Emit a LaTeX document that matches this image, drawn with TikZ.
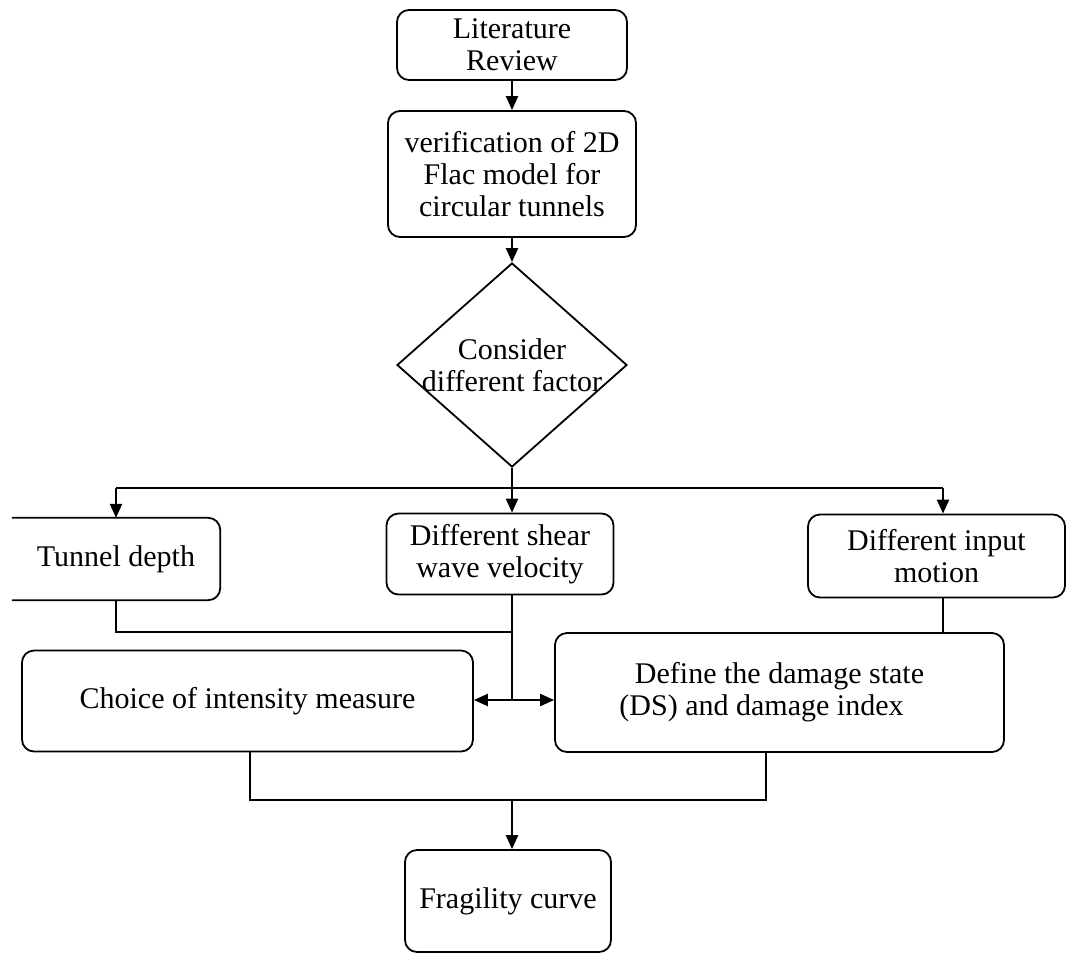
\documentclass[tikz,border=0pt]{standalone}
\usepackage{fontspec}
\setmainfont{Liberation Serif}
\usetikzlibrary{shapes.geometric,arrows.meta}
\begin{document}
\begin{tikzpicture}[x=1pt,y=-1pt,
  txt/.style={align=center, inner sep=0pt, font=\fontsize{30}{32}\selectfont},
  box/.style={txt, draw, rounded corners=12pt, line width=1.8pt},
  boxline/.style={line width=1.8pt, rounded corners=12pt},
  conn/.style={line width=2.3pt},
  arr/.style={conn, -{Triangle[length=14pt,width=12pt]}},
  darr/.style={conn, {Triangle[length=14pt,width=12pt]}-{Triangle[length=14pt,width=12pt]}}]
\useasboundingbox (0,0) rectangle (1067,954);
% nodes
\node[box, minimum width=230pt, minimum height=70pt] (lit) at (512,45) {Literature\\Review};
\node[box, minimum width=248pt, minimum height=126pt] (ver) at (512,174) {verification of 2D\\Flac model for\\circular tunnels};
\node[diamond, draw, line width=1.8pt, minimum width=230pt, minimum height=204pt, inner sep=0pt] (dia) at (512,365) {};
\node[txt] (diat) at (dia.center) {Consider\\different factor};
\node[txt, minimum width=208pt, minimum height=82pt] (td) at (116,559) {Tunnel depth};
\draw[boxline] (td.north west) -- (td.north east) -- (td.south east) -- (td.south west);
\node[box, minimum width=227pt, minimum height=81pt] (sh) at (500,554) {Different shear\\wave velocity};
\node[box, minimum width=257pt, minimum height=83pt] (im) at (936.5,556) {Different input\\motion};
\node[box, minimum width=451pt, minimum height=101pt] (ch) at (247.5,701) {Choice of intensity measure};
\node[box, minimum width=449pt, minimum height=119pt] (df) at (779.5,692.5) {Define the damage state\\(DS) and damage index\hspace*{36pt}};
\node[box, minimum width=206pt, minimum height=102pt] (fr) at (508,901) {Fragility curve};
% coordinates
\coordinate (b) at (512,488);
\coordinate (bl) at (td.north |- b);
\coordinate (br) at (943,488);
\coordinate (j1) at (512,632);
\coordinate (j2) at (512,700);
\coordinate (cl) at (250,800);
\coordinate (cr) at (766,800);
\coordinate (cm) at (512,800);
% connectors
\draw[arr] (lit.south) -- (ver.north);
\draw[arr] (ver.south) -- (dia.north);
\draw[conn] (dia.south) -- (b);
\draw[conn] (bl) -- (br);
\draw[arr] (bl) -- (td.north);
\draw[arr] (b) -- (b |- sh.north);
\draw[arr] (br) -- (br |- im.north);
\draw[conn] (td.south) -- (td.south |- j1) -- (j1);
\draw[conn] (j1 |- sh.south) -- (j2);
\draw[darr] (ch.east |- j2) -- (df.west |- j2);
\draw[conn] (br |- im.south) -- (br |- df.north);
\draw[conn] (cl |- ch.south) -- (cl) -- (cr) -- (cr |- df.south);
\draw[arr] (cm) -- (cm |- fr.north);
\end{tikzpicture}
\end{document}
